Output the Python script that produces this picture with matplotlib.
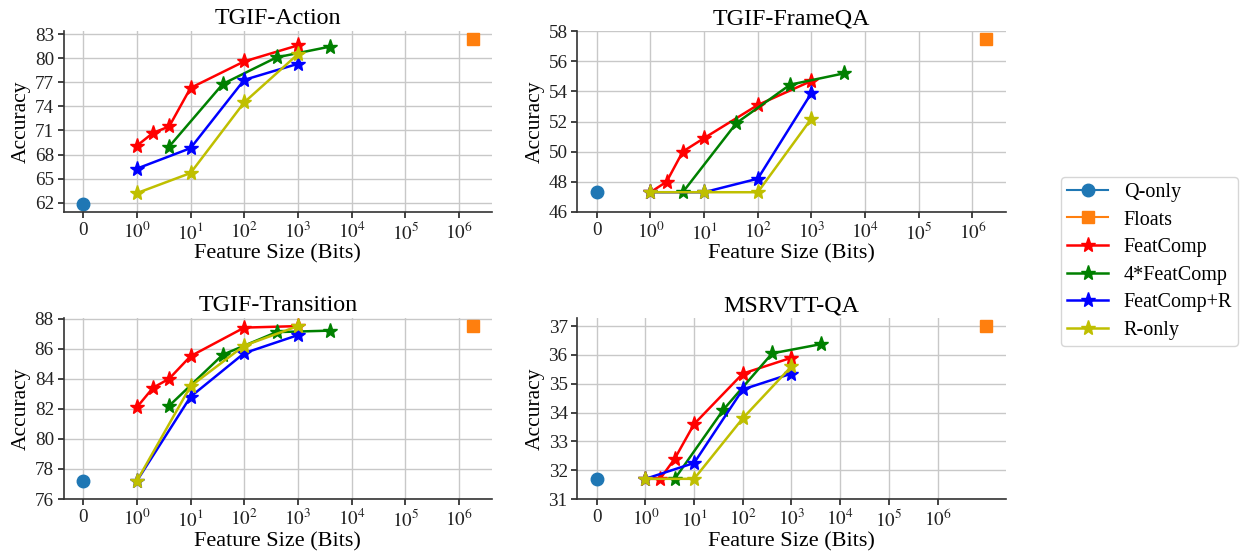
import numpy as np
import matplotlib
matplotlib.use("Agg")
import matplotlib.pyplot as plt
from matplotlib.ticker import FixedLocator, FixedFormatter

plt.rcParams["font.family"] = ["Liberation Serif", "DejaVu Serif"]
plt.rcParams["mathtext.fontset"] = "stix"

# bits per feature for each method
X_FEAT = [1, 2, 4, 10, 100, 1000]
X_FEAT4 = [4, 40, 400, 4000]
X_R = [1, 10, 100, 1000]

TITLES = ["TGIF-Action", "TGIF-FrameQA", "TGIF-Transition", "MSRVTT-QA"]
Q_ONLY = [61.9, 47.3, 77.2, 31.7]
FLOATS_X = [1.8e6, 1.8e6, 1.8e6, 1e7]
FLOATS = [82.35, 57.5, 87.5, 37.0]

FEATCOMP = [
    [69.1, 70.7, 71.5, 76.3, 79.6, 81.6],
    [47.3, 48.0, 50.0, 50.9, 53.1, 54.7],
    [82.1, 83.4, 84.0, 85.5, 87.4, 87.5],
    [31.7, 31.7, 32.4, 33.6, 35.35, 35.9],
]
FEATCOMP4 = [
    [69.0, 76.8, 80.1, 81.45],
    [47.3, 51.9, 54.45, 55.2],
    [82.2, 85.6, 87.1, 87.2],
    [31.7, 34.1, 36.05, 36.37],
]
FEATCOMP_R = [
    [66.25, 68.8, 77.3, 79.3],
    [47.3, 47.3, 48.2, 53.9],
    [77.2, 82.8, 85.7, 86.9],
    [31.7, 32.25, 34.8, 35.35],
]
R_ONLY = [
    [63.2, 65.7, 74.5, 80.5],
    [47.3, 47.3, 47.3, 52.2],
    [77.2, 83.5, 86.2, 87.5],
    [31.7, 31.7, 33.8, 35.6],
]

Y_TICKS = [
    [62, 65, 68, 71, 74, 77, 80, 83],
    [46, 48, 50, 52, 54, 56, 58],
    [76, 78, 80, 82, 84, 86, 88],
    [31, 32, 33, 34, 35, 36, 37],
]
X_TICKS = [0, 1, 10, 100, 1000, 1e4, 1e5, 1e6]
X_TICKLABELS = ["0"] + [f"$10^{{{k}}}$" for k in range(7)]


def main() -> None:
    fig, axes = plt.subplots(2, 2, figsize=(12.42, 5.56), dpi=100)
    fig.subplots_adjust(left=0.0513, right=0.8097, bottom=0.1025, top=0.944,
                        wspace=0.199, hspace=0.59)

    for i, ax in enumerate(axes.flat):
        ax.set_xscale("symlog", linthresh=1, linscale=0.9)
        ax.plot([0], [Q_ONLY[i]], "o-", color="tab:blue", markersize=9, label="Q-only")
        ax.plot([FLOATS_X[i]], [FLOATS[i]], "s-", color="tab:orange", markersize=9, label="Floats")
        ax.plot(X_FEAT, FEATCOMP[i], "r*-", markersize=11, linewidth=1.8, label="FeatComp")
        ax.plot(X_FEAT4, FEATCOMP4[i], "g*-", markersize=11, linewidth=1.8, label="4*FeatComp")
        ax.plot(X_R, FEATCOMP_R[i], "b*-", markersize=11, linewidth=1.8, label="FeatComp+R")
        ax.plot(X_R, R_ONLY[i], "y*-", markersize=11, linewidth=1.8, label="R-only")

        ax.xaxis.set_major_locator(FixedLocator(X_TICKS))
        ax.xaxis.set_major_formatter(FixedFormatter(X_TICKLABELS))
        ax.xaxis.set_minor_locator(FixedLocator([]))
        ax.set_yticks(Y_TICKS[i])

        ax.set_title(TITLES[i], fontsize=17.3, pad=5)
        ax.set_xlabel("Feature Size (Bits)", fontsize=16, labelpad=1)
        ax.set_ylabel("Accuracy", fontsize=15.5, labelpad=3)
        ax.tick_params(labelsize=13.8, colors="#222222", length=4, width=1.2, pad=3)
        ax.grid(True, color="#c8c8c8", linewidth=1.0)
        ax.set_axisbelow(True)
        for side in ("top", "right"):
            ax.spines[side].set_visible(False)
        for side in ("left", "bottom"):
            ax.spines[side].set_color("#333333")
            ax.spines[side].set_linewidth(1.2)

    handles, labels = axes[0, 0].get_legend_handles_labels()
    fig.legend(handles, labels, loc="center left", bbox_to_anchor=(0.8465, 0.53),
               fontsize=14.5, frameon=True, labelspacing=0.42, borderpad=0.3)

    fig.savefig("out.png", dpi=100)


if __name__ == "__main__":
    main()
